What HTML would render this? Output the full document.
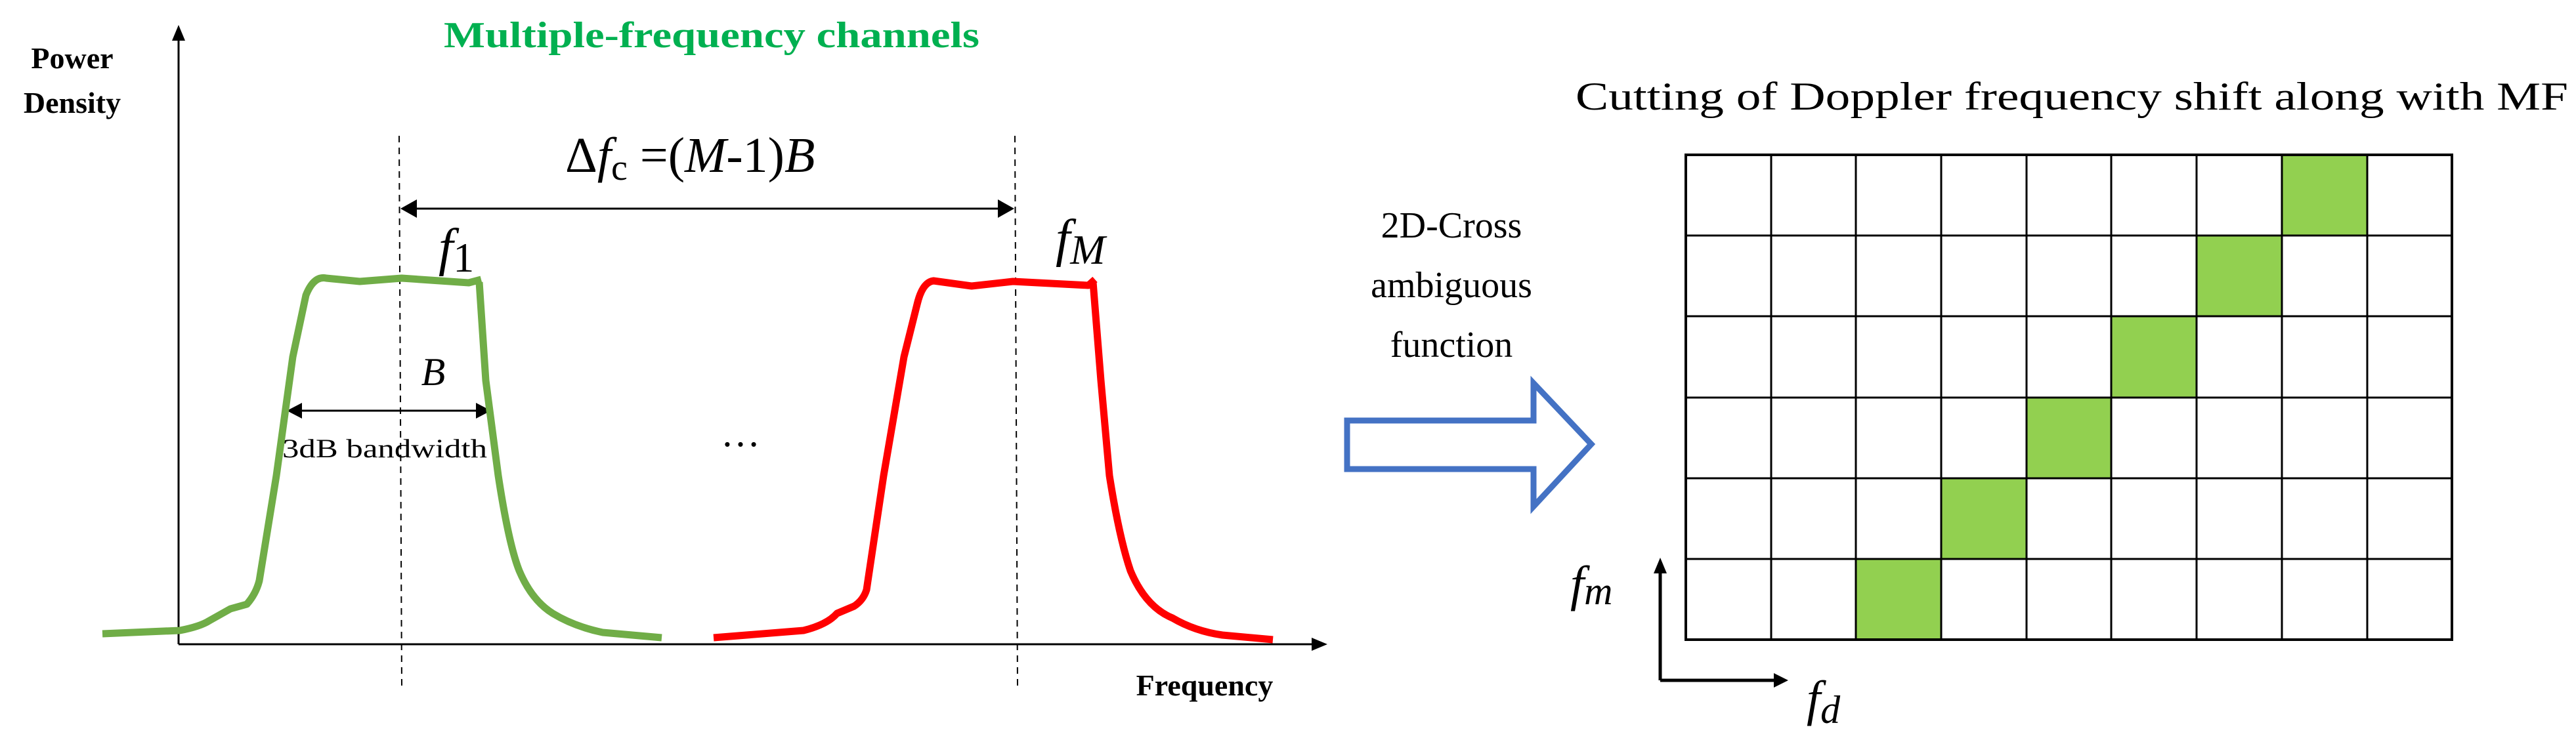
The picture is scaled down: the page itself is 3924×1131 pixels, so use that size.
<!DOCTYPE html>
<html><head><meta charset="utf-8"><style>html,body{margin:0;padding:0;background:#fff}svg{display:block}</style></head>
<body>
<svg width="3924" height="1131" viewBox="0 0 3924 1131" xmlns="http://www.w3.org/2000/svg">
<defs>
<marker id="ah" markerWidth="10" markerHeight="10" refX="9" refY="5" orient="auto" markerUnits="userSpaceOnUse" viewBox="0 0 10 10"><path d="M0,0 L10,5 L0,10 z" fill="#000"/></marker>
</defs>
<g font-family="Liberation Serif, serif">
<!-- axes -->
<line x1="272" y1="982" x2="272" y2="60" stroke="#000" stroke-width="3"/>
<path d="M262,62 L272,38 L282,62 z" fill="#000"/>
<line x1="272" y1="982" x2="2000" y2="982" stroke="#000" stroke-width="3"/>
<path d="M1998,972 L2022,982 L1998,992 z" fill="#000"/>
<text x="110" y="104" font-size="46" font-weight="bold" text-anchor="middle">Power</text>
<text x="110" y="172" font-size="46" font-weight="bold" text-anchor="middle">Density</text>
<text x="1084" y="72" font-size="56" font-weight="bold" fill="#00B050" text-anchor="middle" textLength="816" lengthAdjust="spacingAndGlyphs">Multiple-frequency channels</text>
<text x="1835" y="1060" font-size="46" font-weight="bold" text-anchor="middle">Frequency</text>
<!-- dashed lines -->
<line x1="608" y1="207" x2="612" y2="1048" stroke="#000" stroke-width="2" stroke-dasharray="10,8"/>
<line x1="1546" y1="207" x2="1550" y2="1048" stroke="#000" stroke-width="2" stroke-dasharray="10,8"/>
<!-- delta arrow -->
<line x1="630" y1="318" x2="1524" y2="318" stroke="#000" stroke-width="3"/>
<path d="M610,318 L635,304 L635,332 z" fill="#000"/>
<path d="M1545,318 L1520,304 L1520,332 z" fill="#000"/>
<text x="861" y="262" font-size="76">Δ<tspan font-style="italic">f</tspan><tspan font-size="56" dy="12">c</tspan><tspan dy="-12"> =(</tspan><tspan font-style="italic">M</tspan>-1)<tspan font-style="italic">B</tspan></text>
<text x="668" y="404" font-size="80" font-style="italic">f<tspan font-style="normal" font-size="64" dy="10">1</tspan></text>
<text x="1608" y="390" font-size="80" font-style="italic">f<tspan font-size="64" dy="12">M</tspan></text>
<!-- B arrow -->
<line x1="450" y1="626" x2="735" y2="626" stroke="#000" stroke-width="3"/>
<path d="M437,626 L460,614 L460,638 z" fill="#000"/>
<path d="M748,626 L725,614 L725,638 z" fill="#000"/>
<text x="660" y="587" font-size="60" font-style="italic" text-anchor="middle">B</text>
<text x="586" y="697" font-size="40" text-anchor="middle" textLength="312" lengthAdjust="spacingAndGlyphs">3dB bandwidth</text>
<text x="1128" y="680" font-size="60" text-anchor="middle">…</text>
<!-- curves -->
<path d="M156,966 L274,961 Q305,955 319,946 L351,928 L376,921 Q390,905 395,885 L421,725 L446,544 L466,450 Q478,420 497,424 L548,429 L612,424 L714,431 L733,426 M730,430 L740,580 L759,725 Q775,830 791,870 Q810,915 842,935 Q875,955 918,964 L1008,972" fill="none" stroke="#70AD47" stroke-width="11" stroke-linejoin="round"/>
<path d="M1087,972 L1224,961 Q1260,952 1275,935 L1301,924 Q1315,915 1320,899 L1346,725 L1377,544 L1397,464 Q1405,430 1422,428 L1480,436 L1543,429 L1658,435 L1668,426 M1665,430 L1677,580 L1690,725 Q1705,820 1722,870 Q1745,925 1786,942 Q1820,962 1862,968 L1939,975" fill="none" stroke="#FF0000" stroke-width="11" stroke-linejoin="round"/>
<!-- right part -->
<text x="3156" y="167" font-size="60" text-anchor="middle" textLength="1512" lengthAdjust="spacingAndGlyphs">Cutting of Doppler frequency shift along with MF</text>
<text x="2211" y="362" font-size="56" text-anchor="middle">2D-Cross</text>
<text x="2211" y="453" font-size="56" text-anchor="middle">ambiguous</text>
<text x="2211" y="544" font-size="56" text-anchor="middle">function</text>
<path d="M2052,641 L2336,641 L2336,584 L2424,677 L2336,772 L2336,715 L2052,715 z" fill="#fff" stroke="#4472C4" stroke-width="9"/>
<!-- grid -->
<g fill="#92D050">
<rect x="3476" y="236" width="130" height="123"/>
<rect x="3346" y="359" width="130" height="123"/>
<rect x="3216" y="482" width="130" height="123"/>
<rect x="3087" y="606" width="129" height="123"/>
<rect x="2957" y="729" width="130" height="123"/>
<rect x="2827" y="852" width="130" height="123"/>
</g>
<g stroke="#000" stroke-width="3">
<rect x="2568" y="236" width="1167" height="739" fill="none" stroke-width="4"/>
<line x1="2698" y1="236" x2="2698" y2="975"/><line x1="2827" y1="236" x2="2827" y2="975"/><line x1="2957" y1="236" x2="2957" y2="975"/><line x1="3087" y1="236" x2="3087" y2="975"/><line x1="3216" y1="236" x2="3216" y2="975"/><line x1="3346" y1="236" x2="3346" y2="975"/><line x1="3476" y1="236" x2="3476" y2="975"/><line x1="3606" y1="236" x2="3606" y2="975"/>
<line x1="2568" y1="359" x2="3735" y2="359"/><line x1="2568" y1="482" x2="3735" y2="482"/><line x1="2568" y1="606" x2="3735" y2="606"/><line x1="2568" y1="729" x2="3735" y2="729"/><line x1="2568" y1="852" x2="3735" y2="852"/>
</g>
<path d="M2529,1037 L2529,872 M2529,1037 L2705,1037" fill="none" stroke="#000" stroke-width="5"/>
<path d="M2519,874 L2529,850 L2539,874 z" fill="#000"/>
<path d="M2702,1026 L2724,1037 L2702,1048 z" fill="#000"/>
<text x="2392" y="915" font-size="76" font-style="italic">f<tspan font-size="60" dy="6">m</tspan></text>
<text x="2752" y="1090" font-size="76" font-style="italic">f<tspan font-size="60" dy="12">d</tspan></text>
</g>
</svg>
</body></html>
